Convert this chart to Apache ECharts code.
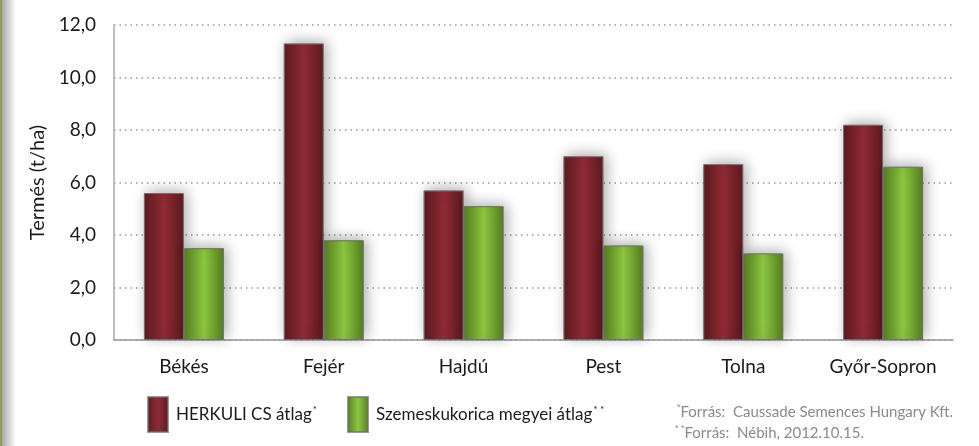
<!DOCTYPE html>
<html>
<head>
<meta charset="utf-8">
<script src="https://cdn.jsdelivr.net/npm/echarts@6/dist/echarts.min.js"></script>
<style>
  html, body { margin: 0; padding: 0; background: #fff; }
  #chart { width: 979px; height: 446px; }
</style>
</head>
<body>
<div id="chart"></div>
<script>
const counties = ['Békés', 'Fejér', 'Hajdú', 'Pest', 'Tolna', 'Győr-Sopron']
const herkuli = [5.6, 11.3, 5.7, 7.0, 6.7, 8.2]
const megyei = [3.5, 3.8, 5.1, 3.6, 3.3, 6.6]

const FONT = 'Lato, "Open Sans", sans-serif'

// oldalt sötétebb, középen világosabb oszlop
const barFill = (edge, mid) => ({
  type: 'linear', x: 0, y: 0, x2: 1, y2: 0,
  colorStops: [
    { offset: 0, color: edge },
    { offset: 0.5, color: mid },
    { offset: 1, color: edge }
  ]
})

const redFill = barFill('#5c1a1f', '#8f2b35')
const greenFill = barFill('#557e1f', '#8cc640')

const chart = echarts.init(document.getElementById('chart'))

const legendBase = {
  top: 396,
  padding: 0,
  itemWidth: 20,
  itemHeight: 35,
  icon: 'rect',
  itemGap: 0,
  textStyle: {
    fontFamily: FONT,
    fontSize: 17,
    color: '#1a1a1a',
    padding: [0, 0, 0, 3],
    rich: {
      sup: { fontSize: 10, color: '#1a1a1a', verticalAlign: 'top', padding: [0, 0, 10, 1] }
    }
  }
}

const barStyle = fill => ({
  color: fill,
  borderColor: 'rgba(110,110,110,0.7)',
  borderWidth: 1,
  shadowBlur: 14,
  shadowColor: 'rgba(0,0,0,0.32)',
  shadowOffsetX: 3,
  shadowOffsetY: -2
})

chart.setOption({
  backgroundColor: '#fff',
  textStyle: { fontFamily: FONT },
  grid: { left: 114, right: 26, top: 25, bottom: 106 },
  legend: [
    Object.assign({}, legendBase, {
      left: 147,
      data: ['HERKULI CS átlag'],
      formatter: name => name + '{sup|*}'
    }),
    Object.assign({}, legendBase, {
      left: 347,
      data: ['Szemeskukorica megyei átlag'],
      formatter: name => name + '{sup|* *}'
    })
  ],
  xAxis: {
    type: 'category',
    data: counties,
    axisLine: { lineStyle: { color: '#999', width: 1.5 } },
    axisTick: { show: false },
    axisLabel: { fontSize: 19, color: '#1a1a1a', margin: 17, fontFamily: FONT }
  },
  yAxis: {
    type: 'value',
    min: 0,
    max: 12,
    interval: 2,
    name: 'Termés (t/ha)',
    nameLocation: 'middle',
    nameGap: 66,
    nameTextStyle: { fontSize: 20, color: '#1a1a1a', fontFamily: FONT },
    axisLine: { show: true, lineStyle: { color: '#aaa', width: 1.5 } },
    axisTick: { show: false },
    axisLabel: {
      fontSize: 19, color: '#1a1a1a', margin: 18, fontFamily: FONT,
      formatter: v => v.toFixed(1).replace('.', ',')
    },
    splitLine: { lineStyle: { color: '#999', width: 1.5, type: [1.5, 4] } }
  },
  series: [
    {
      name: 'HERKULI CS átlag',
      type: 'bar',
      data: herkuli,
      barWidth: 40,
      barGap: '0%',
      itemStyle: barStyle(redFill)
    },
    {
      name: 'Szemeskukorica megyei átlag',
      type: 'bar',
      data: megyei,
      barWidth: 40,
      itemStyle: barStyle(greenFill)
    }
  ],
  graphic: [
    // bal szegély
    {
      type: 'rect', left: 0, top: 0, z: -1,
      shape: { width: 2, height: 446 },
      style: { fill: '#8f9a5a' }
    },
    {
      type: 'rect', left: 2, top: 0, z: -1,
      shape: { width: 14, height: 446 },
      style: {
        fill: {
          type: 'linear', x: 0, y: 0, x2: 1, y2: 0,
          colorStops: [{ offset: 0, color: '#a8a8a8' }, { offset: 1, color: '#ffffff' }]
        }
      }
    },
    // források
    {
      type: 'text', left: 677, top: 403,
      style: {
        text: '{s|*}Forrás:  Caussade Semences Hungary Kft.',
        fill: '#8a8a8a', fontSize: 15, fontFamily: FONT,
        rich: { s: { fontSize: 9, fill: '#8a8a8a', verticalAlign: 'top', padding: [0, 0, 9, 0] } }
      }
    },
    {
      type: 'text', left: 675, top: 424,
      style: {
        text: '{s|* *}Forrás:  Nébih, 2012.10.15.',
        fill: '#8a8a8a', fontSize: 15, fontFamily: FONT,
        rich: { s: { fontSize: 9, fill: '#8a8a8a', verticalAlign: 'top', padding: [0, 0, 9, 0] } }
      }
    }
  ]
})
</script>
</body>
</html>
